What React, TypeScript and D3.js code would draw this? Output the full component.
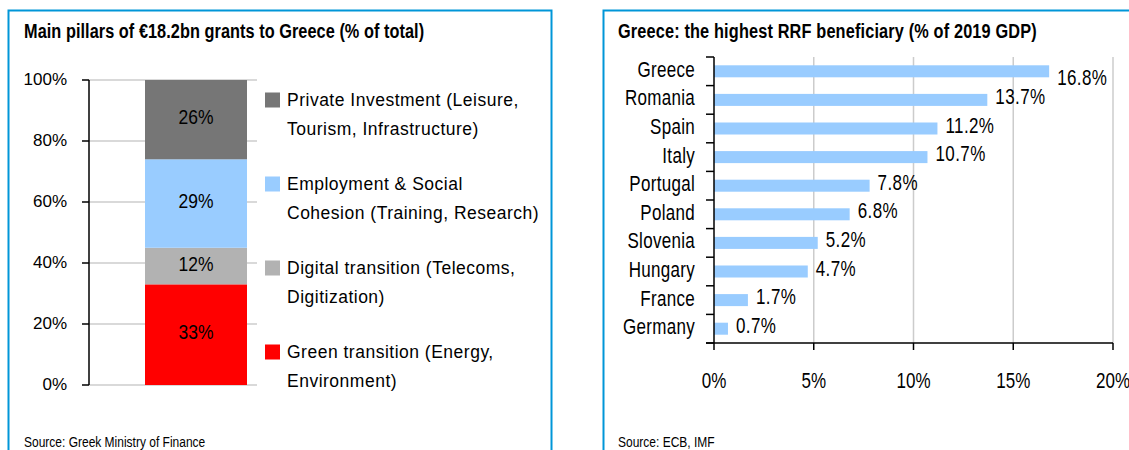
import React from "react";
import * as d3 from "d3";

// ---------- data ----------
const pillarKeys = ["green", "digital", "employment", "private"];
const pillarShares = [33, 12, 29, 26];
const pillarLegendLines = [
  ["Private Investment (Leisure,", "Tourism, Infrastructure)"],
  ["Employment & Social", "Cohesion (Training, Research)"],
  ["Digital transition (Telecoms,", "Digitization)"],
  ["Green transition (Energy,", "Environment)"],
];
const legendOrder = ["private", "employment", "digital", "green"];
const leftTicks = [0, 20, 40, 60, 80, 100];

const countries = ["Greece", "Romania", "Spain", "Italy", "Portugal", "Poland", "Slovenia", "Hungary", "France", "Germany"];
const rrfShare = [16.8, 13.7, 11.2, 10.7, 7.8, 6.8, 5.2, 4.7, 1.7, 0.7];
const rightTicks = [0, 5, 10, 15, 20];

const leftTitle = "Main pillars of €18.2bn grants to Greece (% of total)";
const rightTitle = "Greece: the highest RRF beneficiary (% of 2019 GDP)";
const leftSource = "Source: Greek Ministry of Finance";
const rightSource = "Source: ECB, IMF";

// ---------- styles ----------
const colors: Record<string, string> = {
  green: "#ff0000",
  digital: "#b2b2b2",
  employment: "#99ccff",
  private: "#767676",
};
const FONT = "'Liberation Sans', Arial, Helvetica, sans-serif";
const BORDER = "#0096d8";
const GRID = "#cccccc";

function T({ x, y, sy = 1, anchor = "start", size = 17, weight = "normal", ls = 0, children }: any) {
  return (
    <text
      transform={`translate(${x},${y}) scale(1,${sy})`}
      textAnchor={anchor}
      fontSize={size}
      fontWeight={weight}
      fontFamily={FONT}
      letterSpacing={ls}
      fill="#000"
    >
      {children}
    </text>
  );
}

export default function App() {
  // ----- left chart -----
  const yL = d3.scaleLinear().domain([0, 100]).range([385, 80]);
  const row: Record<string, number> = {};
  pillarKeys.forEach((k, i) => (row[k] = pillarShares[i]));
  const stacked = d3.stack<Record<string, number>>().keys(pillarKeys)([row]);
  const barX0 = 145;
  const barX1 = 247;
  const axL = 89;

  // ----- right chart -----
  const xR = d3.scaleLinear().domain([0, 20]).range([714, 1113]);
  const yR = d3.scaleBand<string>().domain(countries).range([57, 343]).paddingInner(0.58).paddingOuter(0.29);
  const step = yR.step();
  const axisY = 343;

  return (
    <svg
      width={1129}
      height={450}
      style={{ position: "absolute", left: 0, top: 0, display: "block", background: "#fff" }}
    >
      <rect x={0} y={0} width={1129} height={450} fill="#fff" />
      {/* panel borders */}
      <rect x={8.5} y={10.5} width={543} height={460} fill="none" stroke={BORDER} strokeWidth={2} />
      <rect x={603.5} y={10.5} width={600} height={460} fill="none" stroke={BORDER} strokeWidth={2} />

      {/* titles */}
      <T x={24} y={38} sy={1.2} size={16.3} weight="bold" ls={0.05}>{leftTitle}</T>
      <T x={618} y={38} sy={1.2} size={16.3} weight="bold" ls={0.15}>{rightTitle}</T>

      {/* ===== left chart ===== */}
      {leftTicks.map((t) => (
        <g key={"lg" + t}>
          <line x1={axL} x2={257} y1={yL(t)} y2={yL(t)} stroke={GRID} strokeWidth={1.5} />
          <line x1={axL - 7} x2={axL} y1={yL(t)} y2={yL(t)} stroke="#000" strokeWidth={1.5} />
          <T x={67} y={yL(t) + 4.5} anchor="end" size={17}>{t + "%"}</T>
        </g>
      ))}
      {stacked.map((s) => {
        const d = s[0];
        return (
          <g key={s.key}>
            <rect x={barX0} width={barX1 - barX0} y={yL(d[1])} height={yL(d[0]) - yL(d[1])} fill={colors[s.key]} />
            <T x={(barX0 + barX1) / 2} y={(yL(d[0]) + yL(d[1])) / 2 + 4.5} sy={1.12} anchor="middle" size={17.5}>
              {Math.round(d[1] - d[0]) + "%"}
            </T>
          </g>
        );
      })}
      <line x1={axL} x2={axL} y1={yL(100)} y2={yL(0)} stroke="#000" strokeWidth={1.5} />

      {/* legend */}
      {legendOrder.map((k, i) => {
        const cy = 100 + i * 84;
        return (
          <g key={"leg" + k}>
            <rect x={265} y={cy - 7.5} width={15} height={15} fill={colors[k]} />
            {pillarLegendLines[i].map((ln, j) => (
              <T key={j} x={287} y={cy + 6 + j * 28.5} size={17.5} ls={0.5}>{ln}</T>
            ))}
          </g>
        );
      })}

      {/* ===== right chart ===== */}
      {rightTicks.map((t) => (
        <g key={"rg" + t}>
          {t > 0 && <line x1={xR(t)} x2={xR(t)} y1={57} y2={axisY} stroke={GRID} strokeWidth={1.5} />}
          <line x1={xR(t)} x2={xR(t)} y1={axisY} y2={axisY + 7} stroke="#000" strokeWidth={1.5} />
          <T x={xR(t)} y={387.5} sy={1.3} anchor="middle" size={17}>{t + "%"}</T>
        </g>
      ))}
      {countries.map((c, i) => {
        const yb = yR(c)!;
        const yc = yb + yR.bandwidth() / 2;
        return (
          <g key={c}>
            <rect x={xR(0)} y={yb} width={xR(rrfShare[i]) - xR(0)} height={yR.bandwidth()} fill="#99ccff" />
            <T x={695} y={yc + 5.5} sy={1.3} anchor="end" size={17} ls={0.3}>{c}</T>
            <T x={xR(rrfShare[i]) + 8} y={yc + (i === 0 ? 14 : 4)} sy={1.3} size={17} ls={0.4}>
              {rrfShare[i].toFixed(1) + "%"}
            </T>
          </g>
        );
      })}
      {d3.range(countries.length + 1).map((i) => (
        <line key={"ct" + i} x1={706} x2={714} y1={57 + i * step} y2={57 + i * step} stroke="#000" strokeWidth={1.5} />
      ))}
      <line x1={714} x2={714} y1={57} y2={axisY} stroke="#000" strokeWidth={1.5} />
      <line x1={706} x2={xR(20)} y1={axisY} y2={axisY} stroke="#000" strokeWidth={1.5} />

      {/* sources */}
      <T x={24} y={447} sy={1.17} size={12}>{leftSource}</T>
      <T x={618} y={447} sy={1.17} size={12}>{rightSource}</T>
    </svg>
  );
}
